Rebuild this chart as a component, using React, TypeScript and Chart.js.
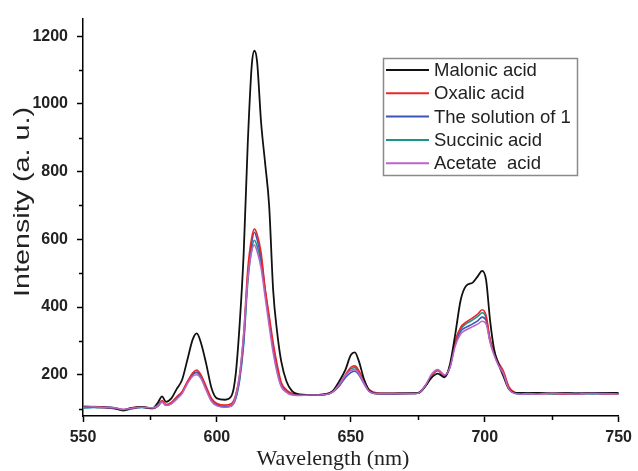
import React, { useEffect, useRef } from "react";
import { Chart, registerables } from "chart.js";

Chart.register(...registerables);

const wavelengths = [
  550, 554, 558, 562, 565, 568, 572, 576, 578, 579.5,
  581, 583, 585, 587, 589, 591, 592.5, 594, 596, 598,
  600, 603, 605.5, 607, 608.5, 610, 611.5, 613, 614, 615,
  616.5, 618, 619.5, 621, 622.5, 624, 626, 628, 630, 635,
  640, 643, 646, 648, 650, 651.5, 653, 655, 657, 660,
  665, 670, 675, 678, 680, 682.5, 685, 687, 689, 691,
  693, 695.5, 697.5, 699, 700.5, 702, 703.5, 705, 707, 709,
  711, 713, 716, 720, 725, 730, 735, 740, 745, 750,
];

const malonic = [
  105, 104, 103, 100, 95, 101, 105, 101, 118, 136,
  120, 130, 158, 185, 245, 305, 322, 295, 232, 160,
  130, 126, 138, 200, 350, 560, 880, 1113, 1157, 1125,
  945, 825, 700, 450, 325, 240, 180, 152, 143, 140,
  142, 150, 185, 215, 258, 266, 240, 185, 152, 144,
  144, 145, 146, 168, 190, 203, 192, 230, 320, 420,
  462, 472, 492, 507, 480, 360, 275, 235, 195, 158,
  147, 146, 146, 146, 145, 146, 145, 146, 146, 146,
];

const oxalic = [
  107, 106, 104, 101, 97, 102, 105, 100, 110, 124,
  112, 118, 135, 150, 180, 206, 214, 200, 165, 130,
  115, 110, 115, 140, 200, 320, 510, 605, 630, 615,
  560, 455, 375, 295, 230, 178, 155, 145, 141, 140,
  142, 150, 175, 200, 222, 226, 212, 180, 155, 146,
  145, 145, 146, 170, 195, 213, 198, 225, 300, 340,
  355, 368, 380, 392, 375, 305, 268, 238, 210, 165,
  148, 145, 145, 144, 145, 143, 144, 145, 144, 143,
];

const solution1 = [
  103, 104, 105, 102, 96, 100, 104, 101, 108, 120,
  110, 116, 132, 148, 178, 202, 208, 196, 160, 126,
  112, 106, 110, 132, 190, 300, 490, 590, 621, 600,
  545, 450, 365, 285, 218, 172, 152, 143, 140, 140,
  141, 148, 170, 192, 206, 210, 200, 172, 150, 144,
  144, 144, 145, 168, 196, 212, 196, 222, 292, 328,
  340, 350, 360, 370, 360, 300, 262, 232, 205, 160,
  146, 144, 143, 144, 145, 143, 145, 144, 143, 144,
];

const succinic = [
  102, 103, 104, 101, 94, 99, 103, 100, 107, 120,
  110, 115, 131, 147, 177, 201, 206, 194, 158, 124,
  110, 104, 108, 128, 185, 290, 470, 570, 597, 580,
  530, 445, 360, 280, 213, 170, 150, 142, 140, 140,
  141, 148, 172, 198, 217, 221, 206, 176, 152, 145,
  144, 145, 145, 167, 195, 213, 197, 223, 298, 335,
  350, 362, 373, 383, 368, 300, 262, 232, 205, 160,
  146, 144, 144, 145, 144, 145, 143, 144, 145, 144,
];

const acetate = [
  104, 105, 103, 102, 97, 101, 104, 102, 109, 119,
  109, 114, 128, 144, 174, 196, 200, 189, 154, 121,
  108, 104, 108, 135, 200, 320, 480, 565, 583, 565,
  515, 430, 345, 265, 205, 165, 148, 140, 139, 140,
  141, 148, 174, 198, 212, 215, 203, 174, 150, 144,
  144, 144, 145, 170, 200, 215, 199, 221, 285, 320,
  332, 342, 350, 358, 350, 295, 258, 230, 202, 158,
  145, 143, 144, 143, 145, 144, 143, 145, 144, 143,
];

const seriesLabels = ["Malonic acid", "Oxalic acid", "The solution of 1", "Succinic acid", "Acetate  acid"];
const seriesColors = ["#111111", "#e8282b", "#3b55b8", "#14968a", "#b865c6"];

const xTicks = [550, 600, 650, 700, 750];
const yTicks = [200, 400, 600, 800, 1000, 1200];
const xMinorTicks = [575, 625, 675, 725];
const yMinorTicks = [100, 300, 500, 700, 900, 1100];

const xTitle = "Wavelength (nm)";
const yTitle = "Intensity (a. u.)";

export default function App() {
  const ref = useRef<HTMLCanvasElement>(null);

  useEffect(() => {
    document.body.style.margin = "0";
    const canvas = ref.current;
    if (!canvas) return;
    const values = [malonic, oxalic, solution1, succinic, acetate];
    const orders = [1, 2, 3, 4, 0];
    const datasets = values.map((vals, i) => ({
      label: seriesLabels[i],
      data: wavelengths.map((x, j) => ({ x, y: vals[j] })),
      borderColor: seriesColors[i],
      backgroundColor: seriesColors[i],
      borderWidth: i === 0 ? 1.8 : 1.6,
      pointRadius: 0,
      cubicInterpolationMode: "monotone" as const,
      order: orders[i],
    }));

    const decor = {
      id: "decor",
      afterDraw(chart: any) {
        const ctx = chart.ctx as CanvasRenderingContext2D;
        const xs = chart.scales.x;
        const ys = chart.scales.y;
        const area = chart.chartArea;
        ctx.save();
        // minor ticks
        ctx.strokeStyle = "#000";
        ctx.lineWidth = 1.5;
        ctx.beginPath();
        xMinorTicks.forEach((v) => {
          const px = Math.round(xs.getPixelForValue(v)) + 0.5;
          ctx.moveTo(px, area.bottom);
          ctx.lineTo(px, area.bottom + 4);
        });
        yMinorTicks.forEach((v) => {
          const py = Math.round(ys.getPixelForValue(v)) + 0.5;
          ctx.moveTo(area.left, py);
          ctx.lineTo(area.left - 4, py);
        });
        ctx.stroke();

        // y title (stretched like the original)
        ctx.fillStyle = "#222";
        ctx.font = '22px "Liberation Sans", Arial, sans-serif';
        ctx.textAlign = "center";
        ctx.textBaseline = "alphabetic";
        const w = ctx.measureText(yTitle).width;
        ctx.save();
        ctx.translate(29, 202);
        ctx.rotate(-Math.PI / 2);
        ctx.scale(190 / w, 1);
        ctx.fillText(yTitle, 0, 0);
        ctx.restore();

        // x title
        ctx.font = '22px "Liberation Serif", "Times New Roman", serif';
        ctx.textAlign = "center";
        ctx.fillText(xTitle, 333, 465);

        // legend
        ctx.strokeStyle = "#8a8a8a";
        ctx.lineWidth = 1.5;
        ctx.fillStyle = "#fff";
        ctx.fillRect(383.5, 58.5, 194, 117);
        ctx.strokeRect(383.5, 58.5, 194, 117);
        ctx.font = '18.5px "Liberation Sans", Arial, sans-serif';
        ctx.textAlign = "left";
        ctx.textBaseline = "middle";
        chart.data.datasets.forEach((ds: any, i: number) => {
          const y = 70 + i * 23.3;
          ctx.strokeStyle = ds.borderColor;
          ctx.lineWidth = 2;
          ctx.beginPath();
          ctx.moveTo(386, y);
          ctx.lineTo(429, y);
          ctx.stroke();
          ctx.fillStyle = "#222";
          ctx.fillText(ds.label, 434, y + 1);
        });
        ctx.restore();
      },
    };

    const tickFont = { family: '"Liberation Sans", Arial, sans-serif', size: 16, weight: "bold" as const };

    const chart = new Chart(canvas, {
      type: "line",
      data: { datasets },
      options: {
        animation: false,
        responsive: false,
        layout: { padding: { left: 0, top: 14, right: 16, bottom: 0 } },
        plugins: { legend: { display: false }, tooltip: { enabled: false } },
        scales: {
          x: {
            type: "linear",
            min: 550,
            max: 750,
            afterBuildTicks: (s: any) => {
              s.ticks = xTicks.map((v) => ({ value: v }));
            },
            afterFit: (s: any) => {
              s.height = 55;
            },
            ticks: {
              font: tickFont,
              color: "#222",
              padding: 6,
              maxRotation: 0,
              autoSkip: false,
              callback: (v: any) => String(v),
            },
            grid: { drawOnChartArea: false, tickLength: 6, tickColor: "#000", tickWidth: 1.5 },
            border: { display: true, color: "#000", width: 1.5 },
          },
          y: {
            type: "linear",
            min: 78,
            max: 1252,
            afterBuildTicks: (s: any) => {
              s.ticks = yTicks.map((v) => ({ value: v }));
            },
            afterFit: (s: any) => {
              s.width = 83;
            },
            ticks: {
              font: tickFont,
              color: "#222",
              padding: 9,
              autoSkip: false,
              callback: (v: any) => String(v),
            },
            grid: { drawOnChartArea: false, tickLength: 6, tickColor: "#000", tickWidth: 1.5 },
            border: { display: true, color: "#000", width: 1.5 },
          },
        },
      },
      plugins: [decor],
    });
    return () => chart.destroy();
  }, []);

  return (
    <div style={{ width: 638, height: 471, position: "relative", background: "#fff" }}>
      <canvas ref={ref} width={638} height={471} />
    </div>
  );
}
